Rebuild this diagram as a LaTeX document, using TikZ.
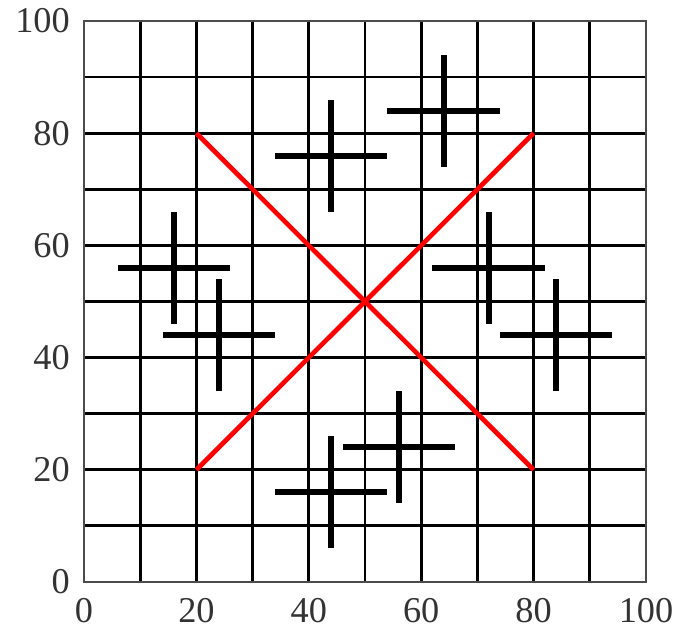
\documentclass[tikz,border=0pt]{standalone}
\usepackage{fontspec}
\setmainfont{Liberation Serif}
\begin{document}
\begin{tikzpicture}[x=0.1686cm,y=0.1683cm,
  grid line/.style={line width=2.4pt,black},
  frame line/.style={line width=2pt,black!70},
  diag/.style={line width=4pt,red},
  bar/.style={line width=5.2pt,black},
  tick label/.style={inner sep=0pt,text=black!80,font=\fontsize{31}{31}\selectfont}]
  \useasboundingbox (-14.95,-9.98) rectangle (107.83,103.74);
  \foreach \v in {10,20,...,90} {
    \draw[grid line] (\v,0) -- (\v,100);
    \draw[grid line] (0,\v) -- (100,\v);
  }
  \draw[frame line] (0,0) rectangle (100,100);
  \foreach \v in {0,20,...,100} {
    \node[tick label,anchor=north] (xl\v) at (\v,-2.9) {\v};
    \node[tick label,anchor=east] (yl\v) at (-2.5,\v) {\v};
  }
  % diagonals
  \coordinate (ll) at (20,20);
  \coordinate (lr) at (80,20);
  \coordinate (ul) at (20,80);
  \coordinate (ur) at (80,80);
  \draw[diag] (ll) -- (ur);
  \draw[diag] (ul) -- (lr);
  % crosses
  \foreach \cx/\cy in {16/56,24/44,44/76,64/84,72/56,84/44,56/24,44/16} {
    \draw[bar] (\cx-10,\cy) -- (\cx+10,\cy);
    \draw[bar] (\cx,\cy-10) -- (\cx,\cy+10);
  }
\end{tikzpicture}
\end{document}
